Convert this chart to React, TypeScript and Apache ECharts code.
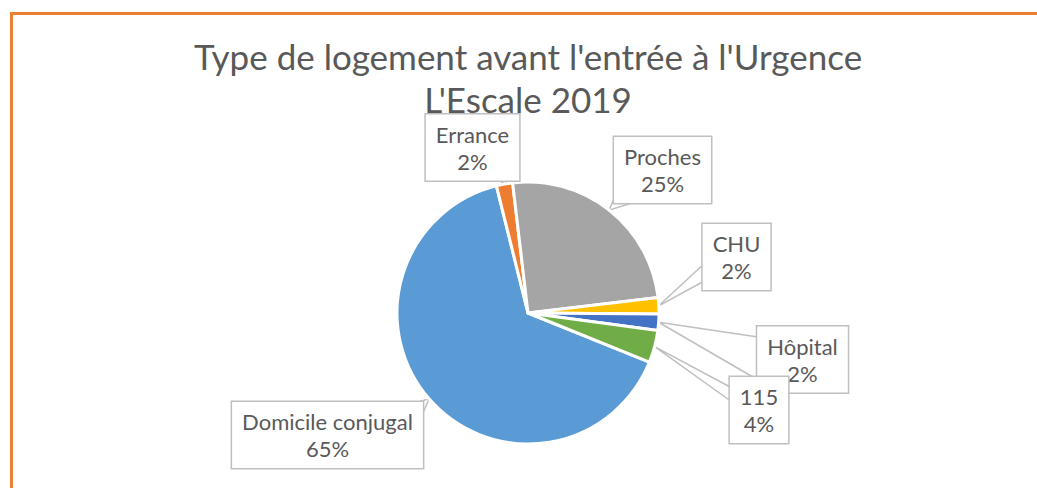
import React, { useEffect, useRef } from 'react';
import * as echarts from 'echarts';

const categories = ['Domicile conjugal', 'Errance', 'Proches', 'CHU', 'Hôpital', '115'];
const values = [65, 2, 25, 2, 2, 4];
const colors = ['#5B9BD5', '#ED7D31', '#A5A5A5', '#FFC000', '#4472C4', '#70AD47'];
const titleLines = ["Type de logement avant l'entrée à l'Urgence", "L'Escale 2019"];

// Callout placement (layout only): box centre and the two wedge attach points
const labelBoxes = [
  { cx: 327.5, cy: 435, a: [418, 402], b: [423, 413] },
  { cx: 472.5, cy: 147.5, a: [497, 178], b: [510, 178] },
  { cx: 662.5, cy: 170, a: [615, 196], b: [632, 203] },
  { cx: 736.5, cy: 257, a: [706, 262], b: [706, 280] },
  { cx: 802.5, cy: 359.5, a: [758, 337], b: [758, 380] },
  { cx: 759, cy: 410, a: [732, 388], b: [732, 402] },
];

const PIE_CENTER = [528, 313];
const PIE_RADIUS = 131;
const START_ANGLE = -22.05;

export default function App() {
  const ref = useRef<HTMLDivElement>(null);
  useEffect(() => {
    const chart = echarts.init(ref.current!, null, { renderer: 'svg' });
    const total = values.reduce((s, v) => s + v, 0);
    const edgePoint = (i: number) => {
      let cum = 0;
      for (let k = 0; k < i; k++) cum += values[k];
      const mid = cum + values[i] / 2;
      const ang = ((START_ANGLE - (mid / total) * 360) * Math.PI) / 180;
      return [PIE_CENTER[0] + PIE_RADIUS * Math.cos(ang), PIE_CENTER[1] - PIE_RADIUS * Math.sin(ang)];
    };
    chart.setOption({
      animation: false,
      backgroundColor: '#ffffff',
      title: {
        text: titleLines.join('\n'),
        left: 528,
        top: 34,
        padding: 0,
        textAlign: 'center',
        textStyle: {
          fontFamily: 'Lato',
          fontSize: 35,
          fontWeight: 'normal',
          color: '#595959',
          lineHeight: 43,
        },
      },
      graphic: [
        {
          type: 'rect',
          shape: { x: 11.5, y: 13.5, width: 1100, height: 600 },
          style: { fill: 'none', stroke: '#ED7D31', lineWidth: 3 },
          silent: true,
          z: -10,
        },
      ],
      series: [
        {
          type: 'pie',
          center: PIE_CENTER,
          radius: PIE_RADIUS,
          startAngle: START_ANGLE,
          clockwise: true,
          percentPrecision: 0,
          data: categories.map((name, i) => ({ name, value: values[i], itemStyle: { color: colors[i] } })),
          itemStyle: { borderColor: '#ffffff', borderWidth: 3 },
          label: {
            show: true,
            formatter: '{b}\n{d}%',
            fontFamily: 'Lato',
            fontSize: 22,
            lineHeight: 27,
            color: '#595959',
            backgroundColor: '#ffffff',
            borderColor: '#BFBFBF',
            borderWidth: 1.5,
            padding: [6, 10],
            align: 'center',
          },
          labelLine: { show: true, lineStyle: { color: '#BFBFBF', width: 1.5 } },
          labelLayout: (params: any) => {
            const i = params.dataIndex;
            const b = labelBoxes[i];
            const p = edgePoint(i);
            return {
              x: b.cx,
              y: b.cy,
              align: 'center',
              verticalAlign: 'middle',
              labelLinePoints: [b.a, p, b.b],
            };
          },
          emphasis: { disabled: true },
        },
      ],
    });
    return () => chart.dispose();
  }, []);
  return (
    <div
      ref={ref}
      style={{ position: 'fixed', left: 0, top: 0, width: 1037, height: 488, background: '#fff' }}
    />
  );
}
